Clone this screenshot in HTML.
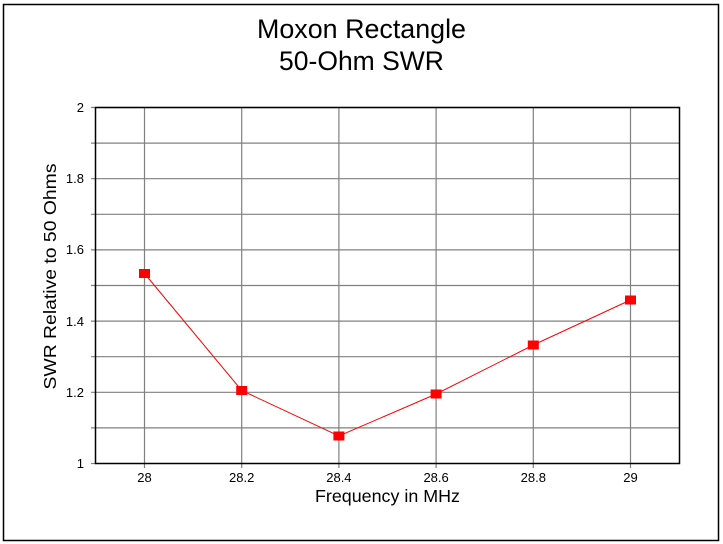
<!DOCTYPE html>
<html><head><style>body{margin:0;background:#fff}svg{display:block}</style></head><body>
<svg width="723" height="544" xmlns="http://www.w3.org/2000/svg" font-family="Liberation Sans, sans-serif">
<rect x="3.5" y="4.5" width="715" height="536" fill="#fff" stroke="#000" stroke-width="1.5"/>
<text x="361.5" y="38" font-size="26.5" text-anchor="middle" textLength="209" lengthAdjust="spacingAndGlyphs">Moxon Rectangle</text>
<text x="361.5" y="70" font-size="26.5" text-anchor="middle">50-Ohm SWR</text>
<g stroke="#808080" stroke-width="1.2">
<line x1="91" y1="107.5" x2="680" y2="107.5"/>
<line x1="91" y1="143.1" x2="680" y2="143.1"/>
<line x1="91" y1="178.7" x2="680" y2="178.7"/>
<line x1="91" y1="214.3" x2="680" y2="214.3"/>
<line x1="91" y1="249.9" x2="680" y2="249.9"/>
<line x1="91" y1="285.5" x2="680" y2="285.5"/>
<line x1="91" y1="321.1" x2="680" y2="321.1"/>
<line x1="91" y1="356.7" x2="680" y2="356.7"/>
<line x1="91" y1="392.3" x2="680" y2="392.3"/>
<line x1="91" y1="427.9" x2="680" y2="427.9"/>
<line x1="91" y1="463.5" x2="96" y2="463.5"/>
<line x1="144.5" y1="107.5" x2="144.5" y2="468"/>
<line x1="241.7" y1="107.5" x2="241.7" y2="468"/>
<line x1="338.9" y1="107.5" x2="338.9" y2="468"/>
<line x1="436.1" y1="107.5" x2="436.1" y2="468"/>
<line x1="533.3" y1="107.5" x2="533.3" y2="468"/>
<line x1="630.5" y1="107.5" x2="630.5" y2="468"/>
</g>
<rect x="95.5" y="107.5" width="584" height="356" fill="none" stroke="#000" stroke-width="1.5"/>
<g font-size="13" text-anchor="end">
<text x="84" y="112">2</text><text x="84" y="183">1.8</text><text x="84" y="254">1.6</text>
<text x="84" y="326">1.4</text><text x="84" y="397">1.2</text><text x="84" y="468">1</text>
</g>
<g font-size="13" text-anchor="middle">
<text x="144.5" y="482">28</text><text x="241.7" y="482">28.2</text><text x="338.9" y="482">28.4</text>
<text x="436.1" y="482">28.6</text><text x="533.3" y="482">28.8</text><text x="630.5" y="482">29</text>
</g>
<text x="387.5" y="502" font-size="17.5" text-anchor="middle" textLength="145" lengthAdjust="spacingAndGlyphs">Frequency in MHz</text>
<text transform="translate(56,276.5) rotate(-90)" font-size="17.5" text-anchor="middle" textLength="226" lengthAdjust="spacingAndGlyphs">SWR Relative to 50 Ohms</text>
<polyline fill="none" stroke="#f00" stroke-width="1" points="144.5,273.5 241.7,390.5 338.9,436 436.1,394 533.3,345 630.5,300"/>
<g fill="#f00">
<rect x="139" y="269" width="11" height="9"/><rect x="236.2" y="386" width="11" height="9"/>
<rect x="333.4" y="431.5" width="11" height="9"/><rect x="430.6" y="389.5" width="11" height="9"/>
<rect x="527.8" y="340.5" width="11" height="9"/><rect x="625" y="295.5" width="11" height="9"/>
</g>
</svg>
</body></html>
